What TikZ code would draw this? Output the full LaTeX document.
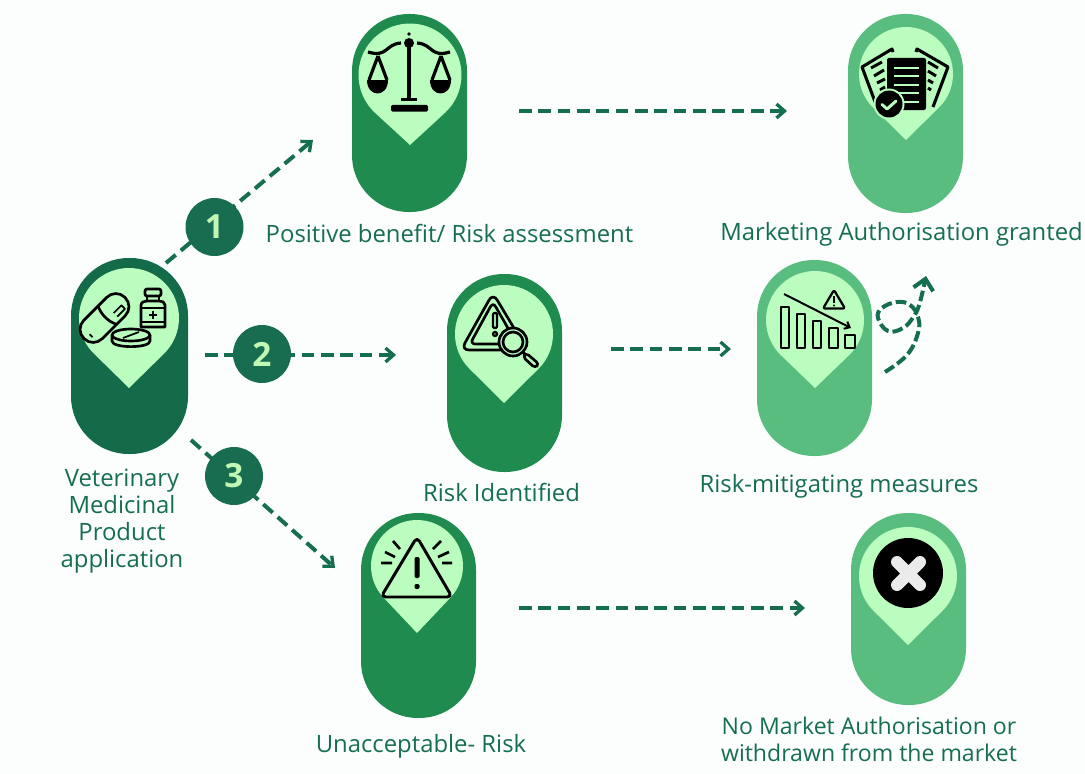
\documentclass[tikz,border=0pt]{standalone}
\usepackage{fontspec}
\setmainfont{Open Sans}
\usetikzlibrary{arrows.meta}
\definecolor{bgc}{HTML}{FBFEFD}
\definecolor{darkg}{HTML}{146B4A}
\definecolor{midg}{HTML}{1F8B4E}
\definecolor{softg}{HTML}{5ABD80}
\definecolor{pinc}{HTML}{BAFDBF}
\definecolor{linkc}{HTML}{166E52}
\definecolor{badgec}{HTML}{186C50}
\definecolor{digitc}{HTML}{C2F7B4}
\tikzset{
 pill/.style n args={3}{draw=none,fill=#1,inner sep=0pt,minimum width=#2*0.75pt,minimum height=#3*0.75pt,rounded corners=#2*0.37pt},
 badge/.style={circle,fill=badgec,text=digitc,inner sep=0pt,minimum size=43.5pt,font=\fontsize{25}{25}\selectfont\bfseries},
 link/.style={draw=linkc,line width=3pt,dash pattern=on 9.5pt off 5pt,-{Straight Barb[length=6pt,width=10.5pt,line width=2.5pt]}},
 lab/.style={text=linkc,align=center,inner sep=0pt,font=\fontsize{17.9}{20.2}\selectfont},
 labsmall/.style={lab,font=\fontsize{17.3}{20.2}\selectfont},
 ico/.style={draw=black,line width=2pt,line join=round},
}
\newcommand{\pinshape}[4]{% cx cy r tipy
 \pgfmathsetmacro{\tang}{acos(#3/(#4-#2))}
 \fill[pinc] (#1,#4) -- ({#1+#3*cos(90-\tang)},{#2+#3*sin(90-\tang)})
   arc[start angle={90-\tang},end angle={90+\tang-360},radius=#3] -- cycle;
}
\begin{document}
\begin{tikzpicture}[x=0.75pt,y=-0.75pt]
\useasboundingbox (0,0) rectangle (1085,774);
\fill[bgc] (0,0) rectangle (1085,774);
% pills
\node[pill={darkg}{117}{196}] (p0) at (129.5,356) {};
\node[pill={midg}{115}{198}] (p1) at (409.5,113) {};
\node[pill={softg}{115}{199}] (p2) at (905.5,113.5) {};
\node[pill={midg}{115}{198}] (p3) at (504.5,373) {};
\node[pill={softg}{115}{196}] (p4) at (814.5,358) {};
\node[pill={midg}{115}{205}] (p5) at (418.5,615.5) {};
\node[pill={softg}{115}{192}] (p6) at (908.5,609) {};
% pins
\pinshape{129}{318}{50}{388}
\pinshape{410}{75}{51.5}{145}
\pinshape{906}{74}{47}{140}
\pinshape{504}{334}{49}{403}
\pinshape{815}{320}{49}{388}
\pinshape{417}{566}{46}{633}
\pinshape{908}{576}{49}{645}
% connector ends
\coordinate (a1) at (166,263); \coordinate (b1) at (313,140);
\coordinate (a2) at (205,355); \coordinate (b2) at (396,355);
\coordinate (a3) at (191,440); \coordinate (b3) at (335,568);
\coordinate (a4) at (519,111); \coordinate (b4) at (787,111);
\coordinate (a5) at (611,349); \coordinate (b5) at (731,349);
\coordinate (a6) at (519,608); \coordinate (b6) at (805,608);
\draw[link] (a1) -- (b1);
\draw[link] (a2) -- (b2);
\draw[link] (a3) -- (b3);
\draw[link] (a4) -- (b4);
\draw[link] (a5) -- (b5);
\draw[link] (a6) -- (b6);
% squiggle
\draw[link,dash pattern=on 8pt off 3pt,-{Straight Barb[length=8pt,width=15pt,line width=3pt]}] plot[smooth,tension=0.7] coordinates {(885,372) (907,355) (918,333) (918,317) (910,305) (897,302) (882,308) (878,318) (888,331) (903,328) (914,316) (920,302) (926,276)};
% badges
\node[badge] (n1) at (214.5,227) {1};
\node[badge] (n2) at (262,354) {2};
\node[badge] (n3) at (234,476) {3};
% labels
\node[lab] (l0) at (122,521) {Veterinary\\Medicinal\\Product\\application};
\node[lab] (l1) at (449.5,233) {Positive benefit/ Risk assessment};
\node[lab] (l2) at (901.5,234) {Marketing Authorisation granted};
\node[lab] (l3) at (501.5,492) {Risk Identified};
\node[lab] (l4) at (839,486) {Risk-mitigating measures};
\node[lab] (l5) at (421,746) {Unacceptable- Risk};
\node[labsmall] (l6) at (869,739.5) {No Market Authorisation or\\withdrawn from the market};
% icon: medicines
\begin{scope}[shift={(104.5,318)},rotate=45]
 \draw[ico,rounded corners=9.5pt] (-29,-13) rectangle (29,13);
 \draw[ico] (4,-13) .. controls (0,-5) and (0,5) .. (4,13);
 \draw[ico,line width=1.3pt] (10,8) -- (21,8) -- (21,3) -- (10,3);
 \draw[ico,line width=1.3pt] (-22,5) -- (-22,1);
\end{scope}
\draw[ico] (112,335) -- (112,341) .. controls (112,348.5) and (150,348.5) .. (150,341) -- (150,335);
\draw[ico] (131,335) ellipse[x radius=19,y radius=6];
\draw[ico,line width=1.3pt] (123,338) -- (139,332);
\draw[ico,rounded corners=1.5pt] (145,289) rectangle (161,296);
\draw[ico] (147,296) -- (147,301) (159,296) -- (159,301);
\draw[ico] (141,327) -- (141,305) .. controls (141,302) and (145,301) .. (147,301) -- (159,301) .. controls (162,301) and (165,302) .. (165,305) -- (165,327) -- cycle;
\draw[ico] (141,308) -- (165,308) (141,322) -- (165,322);
\draw[ico,line width=1.6pt] (149,315) -- (157,315) (153,311) -- (153,319);
% icon: scales
\fill (409,34) circle[radius=1.8];
\fill (409,43) circle[radius=5];
\draw[ico,line width=2.6pt] (409,47) -- (409,99);
\draw[ico,line width=2.4pt] (401,99.5) -- (417,99.5);
\fill[rounded corners=1pt] (391,105) rectangle (428,111.5);
\draw[ico,line width=2.4pt] (401,43) .. controls (385,44) and (388,58) .. (368,52);
\draw[ico,line width=2.4pt] (417,43) .. controls (433,44) and (430,58) .. (450,52);
\draw[ico,line width=2.4pt] (378,56) -- (369,80) (378,56) -- (387,80);
\draw[ico,line width=2.4pt] (441,56) -- (432,80) (441,56) -- (450,80);
\fill (367,80) -- (388,80) .. controls (388,98) and (367,98) .. (367,80) -- cycle;
\fill (430,80) -- (451,80) .. controls (451,98) and (430,98) .. (430,80) -- cycle;
% icon: documents
\draw[ico,line width=2.3pt] (893,52) -- (892,49) -- (862,67) -- (877,107);
\draw[ico,line width=2.3pt] (916,52) -- (917,49) -- (948,67) -- (933,107);
\draw[ico,line width=2.2pt] (871,68) -- (882,62) (874,76) -- (884,70) (877,83) -- (885,79) (880,90) -- (885,87);
\draw[ico,line width=2.2pt] (938,68) -- (928,62) (936,76) -- (928,71) (933,83) -- (928,80) (931,90) -- (928,88);
\fill[rounded corners=1.5pt] (887,58) rectangle (926,110);
\foreach \yy in {68,76,85,93,102}{\draw[pinc,line width=2.2pt] (894,\yy) -- (919,\yy);}
\fill[pinc] (889,104) circle[radius=15.5];
\fill (889,104) circle[radius=13.5];
\draw[pinc,line width=2.2pt,line cap=round,line join=round] (882,104.5) -- (887,109) -- (896,101);
% icon: risk identified
\draw[ico,rounded corners=6pt] (493,293) -- (461,350) -- (527,350) -- cycle;
\draw[ico,rounded corners=4pt] (493,302) -- (470,344) -- (517,344) -- cycle;
\draw[ico,line width=1.7pt,rounded corners=1pt] (493,313) rectangle (497,328);
\draw[ico,line width=1.7pt] (495,334) circle[radius=2];
\fill[pinc] (513,342) circle[radius=14.5];
\draw[ico] (513,342) circle[radius=14];
\draw[ico] (513,342) circle[radius=10];
\draw[ico] (523,352) -- (526,355);
\draw[ico,rounded corners=2.5pt] (526,353) -- (539,364) -- (535,368) -- (523,357) -- cycle;
% icon: mitigation
\draw[ico,line width=1.6pt] (781,307) rectangle (789,348);
\draw[ico,line width=1.6pt] (797,314) rectangle (805,348);
\draw[ico,line width=1.6pt] (813,321) rectangle (821,348);
\draw[ico,line width=1.6pt] (829,328) rectangle (838,348);
\draw[ico,line width=1.6pt] (845,335) rectangle (855,348);
\draw[ico,line width=1.5pt,-{Straight Barb[length=3.5pt,width=6pt]}] (784,294) -- (851,328);
\draw[ico,line width=1.7pt,rounded corners=1.5pt] (834,290) -- (823,308.5) -- (845,308.5) -- cycle;
\draw[ico,line width=1.8pt] (834,296) -- (834,303);
\fill (834,305.5) circle[radius=1.2];
% icon: warning
\draw[ico,line width=2.2pt,rounded corners=3.5pt] (417,537) -- (381,597) -- (452,597) -- cycle;
\fill[rounded corners=1pt] (414.5,557) rectangle (419.5,578);
\fill[rounded corners=1pt] (414.5,584) rectangle (419.5,589);
\draw[ico] (381,563) -- (392,563) (385,552) -- (395,557) (393,541) -- (400,549);
\draw[ico] (442,563) -- (452,563) (438,557) -- (449,552) (433,549) -- (441,541);
% icon: cross
\fill (908,573) circle[radius=35];
\draw[draw=black!8,line width=9pt,line cap=round] (897,562) -- (920,585) (920,562) -- (897,585);
\end{tikzpicture}
\end{document}
